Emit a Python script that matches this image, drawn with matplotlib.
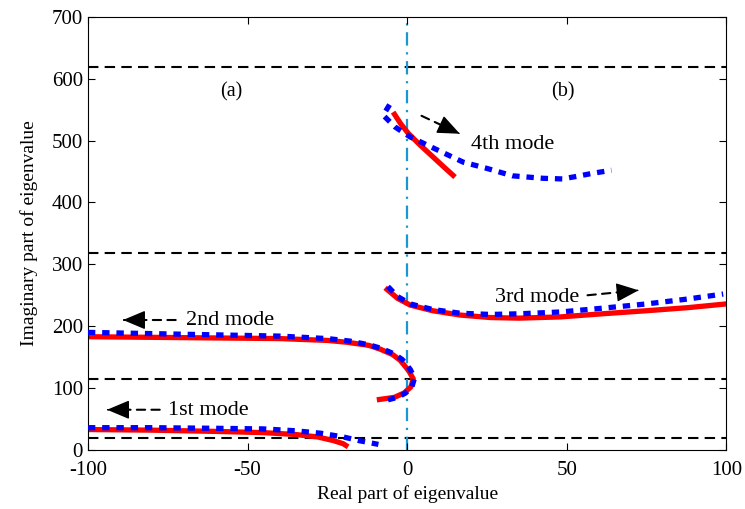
import matplotlib.pyplot as plt

plt.rcParams['font.family'] = ['Liberation Serif', 'DejaVu Serif']
plt.rcParams['axes.unicode_minus'] = False

# Đường ngưỡng ngang (phần ảo)
h_levels = [619, 318, 115, 19]

# Mode 1
m1_red_x = [-100, -80, -60, -45, -35, -28, -23, -20, -18.5]
m1_red_y = [33, 32, 30, 28, 25, 21, 15, 10, 5]
m1_blue_x = [-100, -80, -60, -45, -35, -27, -20, -15, -9]
m1_blue_y = [36, 36, 35, 34, 31, 27, 21, 15, 9]

# Mode 2
m2_red_x = [-100, -80, -60, -40, -25, -18.8, -12, -8.5, -4.5, -2.2, 0.5, 1.9, 1.2, -1, -4, -9.5]
m2_red_y = [183, 182, 181, 180, 177, 174, 169, 163, 154, 145, 128, 115, 102, 92, 85, 81]
m2_blue_x = [-100, -80, -60, -40, -25, -18, -12, -8, -4, -1.5, 1, 2.3, 1.5, -0.5, -3, -6]
m2_blue_y = [190, 188, 186, 184, 180, 176, 170, 164, 155, 146, 130, 116, 102, 92, 85, 81]

# Mode 3
m3_red_x = [-6.9, -3, 1, 8, 16.6, 26, 35, 48, 61, 75, 88, 100]
m3_red_y = [262, 245, 234, 225, 218, 214, 213, 215, 220, 225, 230, 236]
m3_blue_x = [-6, -3, 1, 8, 16.6, 26, 35, 48, 61, 75, 88, 99]
m3_blue_y = [264, 248, 236, 227, 221, 219, 220, 223, 229, 236, 244, 252]

# Mode 4
m4_red_x = [-4.4, -2, 0.3, 4, 8, 12, 15]
m4_red_y = [546, 527, 512, 493, 474, 455, 441]
m4_blue_x = [-5.5, -7.5, -3.8, 0.9, 9.4, 17.6, 25, 33, 42.6, 48.6, 53, 58, 64]
m4_blue_y = [558, 541, 522, 506, 485, 465, 455, 443, 439, 438, 442, 447, 452]

fig, ax = plt.subplots(figsize=(7.45, 5.09), dpi=100)
fig.subplots_adjust(left=0.118, right=0.975, bottom=0.116, top=0.967)

for lv in h_levels:
    ax.axhline(lv, color='black', linestyle=(0, (5, 3)), linewidth=1.5, zorder=1)
ax.axvline(0, color='#1a96d0', linestyle=(0, (6, 3, 1, 3)), linewidth=1.6, zorder=1)

red_kw = dict(color='#ff0000', linewidth=3.8, solid_capstyle='butt', zorder=2)
blue_kw = dict(color='#0000ff', linewidth=3.8, linestyle=(0, (1.4, 1.3)),
               dash_capstyle='butt', zorder=3)

for rx, ry, bx, by in [(m1_red_x, m1_red_y, m1_blue_x, m1_blue_y),
                       (m2_red_x, m2_red_y, m2_blue_x, m2_blue_y),
                       (m3_red_x, m3_red_y, m3_blue_x, m3_blue_y),
                       (m4_red_x, m4_red_y, m4_blue_x, m4_blue_y)]:
    ax.plot(rx, ry, **red_kw)
    ax.plot(bx, by, **blue_kw)


def dashed_arrow(start, end):
    # thân nét đứt + đầu mũi tên đặc
    ax.annotate('', xy=end, xytext=start,
                arrowprops=dict(arrowstyle='-', color='black', linestyle=(0, (4, 3)),
                                linewidth=1.5, shrinkA=0, shrinkB=4))
    dx = (end[0] - start[0]) * 0.02
    dy = (end[1] - start[1]) * 0.02
    ax.annotate('', xy=end, xytext=(end[0] - dx, end[1] - dy),
                arrowprops=dict(arrowstyle='-|>,head_length=1.0,head_width=0.42',
                                color='black', linewidth=1, mutation_scale=14,
                                shrinkA=0, shrinkB=0))


dashed_arrow((4.5, 540), (16.5, 511))
dashed_arrow((56.5, 250), (72.5, 258))
dashed_arrow((-72.5, 210), (-89, 210))
dashed_arrow((-77.5, 65), (-94, 65))

ax.text(33, 494, '4th mode', fontsize=16, ha='center', va='center')
ax.text(40.7, 246, '3rd mode', fontsize=16, ha='center', va='center')
ax.text(-55.5, 209, '2nd mode', fontsize=16, ha='center', va='center')
ax.text(-62.4, 64, '1st mode', fontsize=16, ha='center', va='center')
ax.text(-55.2, 578, '(a)', fontsize=14.5, ha='center', va='center')
ax.text(48.9, 578, '(b)', fontsize=14.5, ha='center', va='center')

ax.set_xlim(-100, 100)
ax.set_ylim(0, 700)
ax.set_xticks([-100, -50, 0, 50, 100])
ax.set_yticks(range(0, 701, 100))
ax.tick_params(direction='in', top=True, right=True, labelsize=15, length=5)
ax.tick_params(axis='x', pad=8)
ax.set_xlabel('Real part of eigenvalue', fontsize=14, labelpad=4)
ax.set_ylabel('Imaginary part of eigenvalue', fontsize=14, labelpad=10)

plt.savefig('out.png', dpi=100)
